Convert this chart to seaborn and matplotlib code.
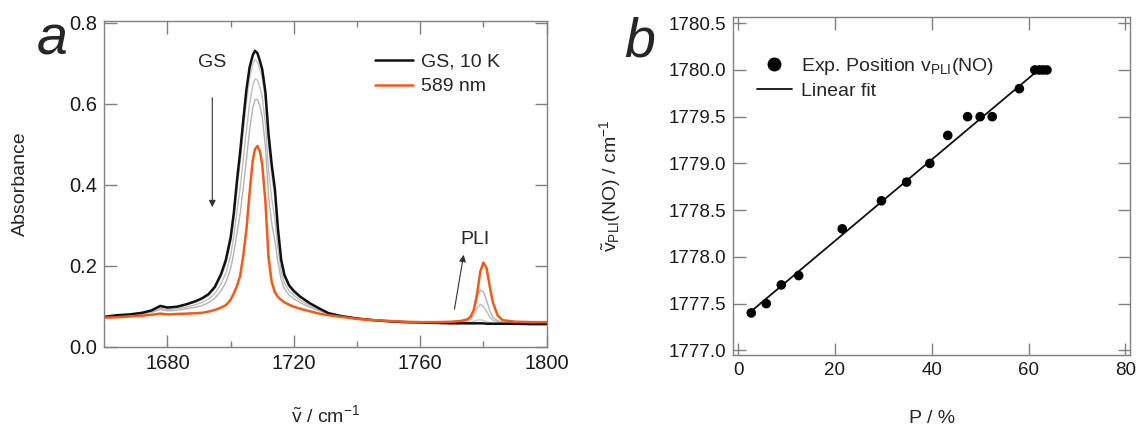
import numpy as np
import pandas as pd
import matplotlib
matplotlib.use("Agg")
import matplotlib.pyplot as plt
import seaborn as sns
from matplotlib.lines import Line2D

# ---------------- data: panel a (IR spectra) ----------------
wavenumber = [1660, 1664, 1668, 1672, 1675, 1677.7, 1680, 1683, 1686, 1689, 1691, 1693, 1695, 1697,
              1698.5, 1700, 1701, 1702, 1703, 1704, 1705, 1706, 1707, 1707.7, 1708.5, 1709.3, 1710,
              1711, 1712, 1713, 1714, 1715, 1716, 1717, 1718.5, 1720, 1722, 1725, 1728, 1731, 1735,
              1740, 1745, 1750, 1755, 1760, 1765, 1770, 1773, 1775, 1776, 1777, 1778, 1779, 1780,
              1781, 1782, 1783, 1784.5, 1786, 1790, 1795, 1800]

gs_10K = [0.074, 0.078, 0.080, 0.084, 0.090, 0.101, 0.097, 0.099, 0.105, 0.113, 0.120, 0.130, 0.148, 0.180,
          0.215, 0.270, 0.330, 0.410, 0.480, 0.560, 0.635, 0.690, 0.720, 0.731, 0.725, 0.705, 0.685,
          0.630, 0.525, 0.450, 0.390, 0.290, 0.215, 0.178, 0.152, 0.138, 0.124, 0.108, 0.095, 0.083, 0.076,
          0.070, 0.066, 0.063, 0.061, 0.060, 0.059, 0.058, 0.058, 0.058, 0.058, 0.058, 0.058, 0.058, 0.058,
          0.057, 0.057, 0.057, 0.057, 0.057, 0.057, 0.056, 0.056]

nm589 = [0.072, 0.073, 0.075, 0.077, 0.079, 0.082, 0.080, 0.081, 0.082, 0.083, 0.084, 0.087, 0.091, 0.097,
         0.103, 0.116, 0.132, 0.150, 0.175, 0.225, 0.290, 0.380, 0.460, 0.488, 0.496, 0.482, 0.450,
         0.360, 0.220, 0.160, 0.135, 0.123, 0.116, 0.110, 0.104, 0.099, 0.094, 0.088, 0.082, 0.078, 0.074,
         0.069, 0.066, 0.064, 0.062, 0.061, 0.061, 0.062, 0.064, 0.068, 0.075, 0.092, 0.130, 0.185, 0.208,
         0.195, 0.150, 0.110, 0.078, 0.066, 0.062, 0.061, 0.061]

inter_1 = [0.074, 0.078, 0.080, 0.083, 0.089, 0.099, 0.095, 0.097, 0.103, 0.110, 0.117, 0.126, 0.143, 0.173,
           0.205, 0.256, 0.312, 0.387, 0.453, 0.530, 0.604, 0.662, 0.697, 0.709, 0.704, 0.685, 0.664,
           0.606, 0.498, 0.424, 0.367, 0.275, 0.206, 0.172, 0.148, 0.134, 0.121, 0.106, 0.094, 0.083, 0.076,
           0.070, 0.066, 0.063, 0.061, 0.060, 0.059, 0.058, 0.059, 0.060, 0.061, 0.063, 0.066, 0.067, 0.065,
           0.062, 0.060, 0.059, 0.058, 0.058, 0.058, 0.058, 0.058]

inter_2 = [0.073, 0.077, 0.079, 0.082, 0.087, 0.095, 0.092, 0.094, 0.098, 0.104, 0.110, 0.118, 0.131, 0.156,
           0.183, 0.225, 0.273, 0.335, 0.392, 0.463, 0.535, 0.600, 0.645, 0.661, 0.659, 0.640, 0.617,
           0.552, 0.437, 0.366, 0.316, 0.242, 0.186, 0.158, 0.138, 0.127, 0.115, 0.102, 0.091, 0.082, 0.075,
           0.070, 0.066, 0.063, 0.061, 0.060, 0.060, 0.059, 0.061, 0.064, 0.068, 0.078, 0.096, 0.105, 0.100,
           0.088, 0.074, 0.066, 0.061, 0.059, 0.059, 0.059, 0.059]

inter_3 = [0.073, 0.076, 0.078, 0.081, 0.085, 0.092, 0.089, 0.090, 0.094, 0.098, 0.102, 0.109, 0.120, 0.139,
           0.159, 0.193, 0.231, 0.280, 0.328, 0.393, 0.463, 0.535, 0.590, 0.610, 0.611, 0.594, 0.568,
           0.495, 0.373, 0.305, 0.263, 0.207, 0.166, 0.144, 0.128, 0.119, 0.109, 0.098, 0.089, 0.081, 0.075,
           0.070, 0.066, 0.064, 0.062, 0.061, 0.060, 0.060, 0.062, 0.066, 0.072, 0.090, 0.122, 0.140, 0.136,
           0.115, 0.090, 0.073, 0.064, 0.061, 0.060, 0.060, 0.060]

# ---------------- data: panel b ----------------
P_percent = [2.7, 5.8, 8.9, 12.5, 21.5, 29.6, 34.8, 39.6, 43.3, 47.4, 50.0, 52.5, 58.1, 61.3, 62.2, 63.0, 63.8]
nu_PLI = [1777.4, 1777.5, 1777.7, 1777.8, 1778.3, 1778.6, 1778.8, 1779.0, 1779.3, 1779.5, 1779.5,
          1779.5, 1779.8, 1780.0, 1780.0, 1780.0, 1780.0]
fit_P_range = [2.7, 61.3]

# ---------------- style ----------------
sns.set_theme(style="ticks")
plt.rcParams['font.family'] = ['Liberation Sans', 'DejaVu Sans']
plt.rcParams['mathtext.fontset'] = 'custom'
plt.rcParams['mathtext.rm'] = 'Liberation Sans'
plt.rcParams['mathtext.it'] = 'Liberation Sans:italic'
plt.rcParams['mathtext.bf'] = 'Liberation Sans:bold'
plt.rcParams['axes.unicode_minus'] = False

spine_c = '#808080'
orange = '#f25a1a'
gray_c = ['#c8c8c8', '#bdbdbd', '#b3b3b3']

fig = plt.figure(figsize=(11.37, 4.25), dpi=100)
axA = fig.add_axes([0.0917, 0.183, 0.389, 0.768])
axB = fig.add_axes([0.645, 0.1647, 0.349, 0.796])


def style_axes(ax, fs):
    for s in ax.spines.values():
        s.set_color(spine_c)
        s.set_linewidth(1.0)
    ax.tick_params(which='both', direction='in', top=True, right=True, color=spine_c,
                   labelsize=fs, labelcolor='#1a1a1a', width=1.0)
    ax.tick_params(which='major', length=9, pad=5)
    ax.tick_params(which='minor', length=4.5)


# ---- panel a ----
for g, c in zip([inter_3, inter_2, inter_1], gray_c[::-1]):
    sns.lineplot(x=wavenumber, y=g, ax=axA, color=c, lw=1.0, sort=False, estimator=None)
sns.lineplot(x=wavenumber, y=gs_10K, ax=axA, color='#111111', lw=1.8, sort=False, estimator=None)
sns.lineplot(x=wavenumber, y=nm589, ax=axA, color=orange, lw=1.8, sort=False, estimator=None)

axA.set_xlim(1660, 1800)
axA.set_ylim(-0.001, 0.805)
axA.set_xticks([1680, 1720, 1760, 1800])
axA.set_xticks([1700, 1740, 1780], minor=True)
axA.set_yticks([0.0, 0.2, 0.4, 0.6, 0.8])
axA.set_yticklabels(['0.0', '0.2', '0.4', '0.6', '0.8'])
style_axes(axA, 14.5)
axA.set_xlabel(r'$\tilde{\mathrm{v}}$ / cm$^{-1}$', fontsize=14, labelpad=22)
axA.set_ylabel('Absorbance', fontsize=14, labelpad=29)

axA.annotate('', xy=(1694.2, 0.338), xytext=(1694.2, 0.622),
             arrowprops=dict(arrowstyle='-|>', color='#333333', lw=0.8, mutation_scale=10))
axA.text(1694.3, 0.703, 'GS', fontsize=14, ha='center', va='center')
axA.annotate('', xy=(1773.9, 0.234), xytext=(1770.7, 0.086),
             arrowprops=dict(arrowstyle='-|>', color='#333333', lw=0.8, mutation_scale=10))
axA.text(1777.4, 0.266, 'PLI', fontsize=14, ha='center', va='center')

hA = [Line2D([], [], color='#111111', lw=1.8), Line2D([], [], color=orange, lw=1.8)]
axA.legend(hA, ['GS, 10 K', '589 nm'], loc='upper left', bbox_to_anchor=(0.572, 0.954),
           frameon=False, fontsize=14, handlelength=1.95, handletextpad=0.45, labelspacing=0.35)

# ---- panel b ----
fit = np.polyfit(P_percent, nu_PLI, 1)
fit_y = list(np.polyval(fit, fit_P_range))
sns.lineplot(x=fit_P_range, y=fit_y, ax=axB, color='#111111', lw=1.3, sort=False, estimator=None)
sns.scatterplot(x=P_percent, y=nu_PLI, ax=axB, color='#000000', s=48, edgecolor='none', zorder=3)

axB.set_xlim(-1, 81)
axB.set_ylim(1776.95, 1780.57)
axB.set_xticks([0, 20, 40, 60, 80])
axB.set_yticks([1777.0, 1777.5, 1778.0, 1778.5, 1779.0, 1779.5, 1780.0, 1780.5])
axB.set_yticklabels(['1777.0', '1777.5', '1778.0', '1778.5', '1779.0', '1779.5', '1780.0', '1780.5'])
style_axes(axB, 13.5)
axB.set_xlabel('P / %', fontsize=14, labelpad=22)
axB.set_ylabel(r'$\tilde{\mathrm{v}}_{\mathrm{PLI}}$(NO) / cm$^{-1}$', fontsize=14, labelpad=33)

hB = [Line2D([], [], color='black', marker='o', ls='none', markersize=9),
      Line2D([], [], color='#111111', lw=1.3)]
axB.legend(hB, [r'Exp. Position v$_{\mathrm{PLI}}$(NO)', 'Linear fit'], loc='upper left',
           bbox_to_anchor=(0.015, 0.935), frameon=False, fontsize=14, handlelength=1.8,
           handletextpad=0.45, labelspacing=0.25)

# panel letters
fig.text(0.046, 0.872, 'a', fontsize=40, style='italic', ha='center', va='baseline')
fig.text(0.563, 0.866, 'b', fontsize=40, style='italic', ha='center', va='baseline')

fig.savefig('out.png', dpi=100)
